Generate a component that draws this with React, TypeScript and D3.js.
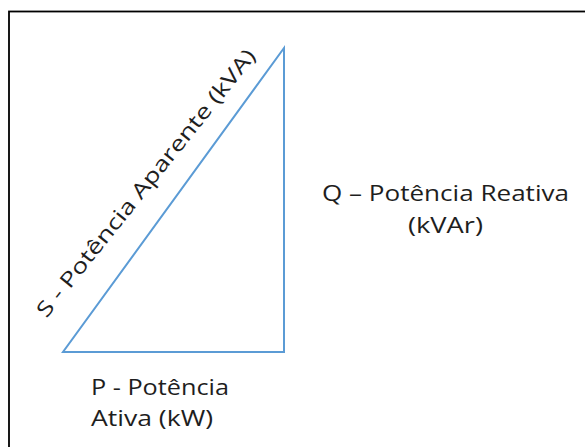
import React from "react";
import * as d3 from "d3";

// power triangle: sides in arbitrary units (drawn to look like the picture)
const sideNames = ["P", "Q", "S"];
const sideValues = [3, 4.12];
const labelP = ["P - Potência", "Ativa (kW)"];
const labelQ = ["Q – Potência Reativa", "(kVAr)"];
const labelS = "S - Potência Aparente (kVA)";

const width = 585;
const height = 447;
const font = "'Open Sans', sans-serif";
const textColor = "#1e1e1e";

export default function App() {
  const [pVal, qVal] = sideValues;

  const xScale = d3.scaleLinear().domain([0, pVal]).range([63, 284]);
  const yScale = d3.scaleLinear().domain([0, qVal]).range([352, 48]);

  const corners: [number, number][] = [
    [0, 0],
    [pVal, 0],
    [pVal, qVal],
  ];
  const line = d3
    .line<[number, number]>()
    .x(d => xScale(d[0]))
    .y(d => yScale(d[1]))
    .curve(d3.curveLinearClosed);

  // the S label sits a bit off the hypotenuse and is slightly less steep
  const sx = (xScale(0) + xScale(pVal)) / 2 - 27;
  const sy = (yScale(0) + yScale(qVal)) / 2 - 16.5;

  return (
    <svg
      width={width}
      height={height}
      style={{ position: "absolute", left: 0, top: 0, background: "#fff" }}
    >
      <rect x={9} y={11.5} width={620} height={480} fill="none" stroke="#000" strokeWidth={1.8} />

      <path
        d={line(corners) || ""}
        fill="none"
        stroke="#5b9bd5"
        strokeWidth={2}
        data-sides={sideNames.join(",")}
      />

      <text
        transform={`translate(${sx},${sy}) rotate(-51.3)`}
        y={6.5}
        textAnchor="middle"
        fontFamily={font}
        fontSize={21}
        fill={textColor}
        textLength={336}
        lengthAdjust="spacingAndGlyphs"
      >
        {labelS}
      </text>

      <g fontFamily={font} fontSize={21} fill={textColor} textAnchor="middle">
        {labelQ.map((t, i) => (
          <text
            key={t}
            x={445.5}
            y={201 + i * 32}
            textLength={i === 0 ? 247 : 75}
            lengthAdjust="spacingAndGlyphs"
          >
            {t}
          </text>
        ))}
      </g>

      <g fontFamily={font} fontSize={21} fill={textColor}>
        {labelP.map((t, i) => (
          <text
            key={t}
            x={91}
            y={395 + i * 31}
            textLength={i === 0 ? 138 : 122}
            lengthAdjust="spacingAndGlyphs"
          >
            {t}
          </text>
        ))}
      </g>
    </svg>
  );
}
